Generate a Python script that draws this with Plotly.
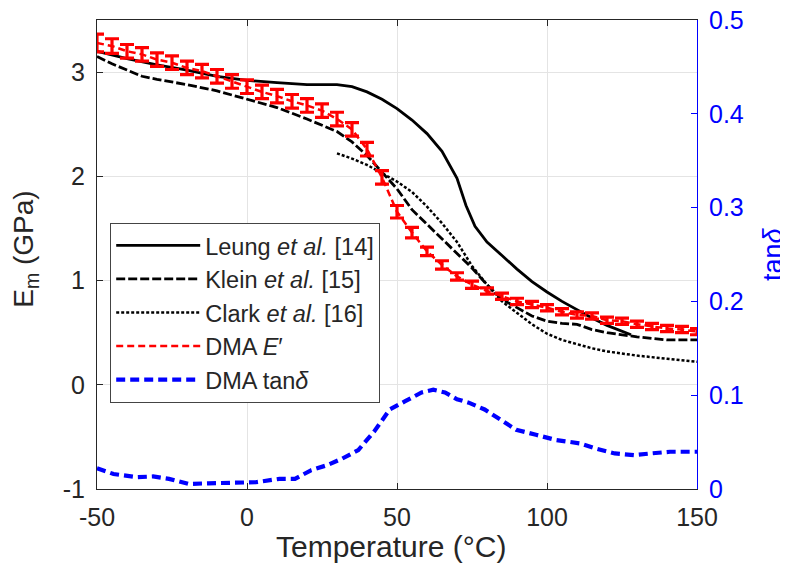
import plotly.graph_objects as go

# ---------------- data ----------------
leung_T = [-50, -40, -30, -20, -10, 0, 10, 20, 30, 35, 40, 45, 50, 55, 60, 65, 70, 73, 76, 80, 85, 90, 95, 100, 105, 110, 115, 120, 125, 128]
leung_E = [3.20, 3.13, 3.07, 3.02, 2.96, 2.92, 2.90, 2.88, 2.88, 2.86, 2.81, 2.74, 2.65, 2.54, 2.41, 2.24, 1.98, 1.72, 1.52, 1.37, 1.24, 1.11, 0.99, 0.89, 0.80, 0.72, 0.64, 0.57, 0.51, 0.48]

klein_T = [-50, -45, -40, -35, -30, -20, -10, 0, 10, 20, 30, 35, 40, 45, 50, 55, 60, 65, 70, 75, 80, 85, 90, 95, 100, 105, 110, 115, 120, 125, 130, 140, 150]
klein_E = [3.15, 3.08, 3.02, 2.96, 2.93, 2.88, 2.82, 2.74, 2.66, 2.55, 2.43, 2.33, 2.20, 2.04, 1.88, 1.68, 1.54, 1.40, 1.26, 1.12, 0.96, 0.82, 0.74, 0.66, 0.61, 0.59, 0.58, 0.53, 0.50, 0.48, 0.46, 0.43, 0.43]

clark_T = [30, 35, 40, 45, 50, 55, 60, 65, 70, 75, 80, 85, 90, 95, 100, 105, 110, 115, 120, 130, 140, 150]
clark_E = [2.22, 2.17, 2.11, 2.03, 1.95, 1.85, 1.71, 1.55, 1.37, 1.14, 0.96, 0.80, 0.69, 0.58, 0.49, 0.43, 0.39, 0.35, 0.32, 0.28, 0.25, 0.22]

dma_T = [-50, -45, -40, -35, -30, -25, -20, -15, -10, -5, 0, 5, 10, 15, 20, 25, 30, 35, 40, 45, 50,
         55, 60, 65, 70, 75, 80, 85, 90, 95, 100, 105, 110, 115, 120, 125, 130, 135, 140, 145, 150]
dma_E = [3.28, 3.25, 3.20, 3.17, 3.12, 3.09, 3.04, 3.01, 2.96, 2.91, 2.86, 2.81, 2.77, 2.72, 2.68, 2.63, 2.55, 2.45, 2.26, 1.99, 1.66,
         1.46, 1.28, 1.15, 1.04, 0.96, 0.90, 0.85, 0.80, 0.77, 0.74, 0.70, 0.67, 0.66, 0.62, 0.61, 0.58, 0.56, 0.54, 0.53, 0.51]
dma_err = [0.085, 0.07, 0.065, 0.065, 0.065, 0.065, 0.065, 0.065, 0.065, 0.065, 0.065, 0.065, 0.065, 0.065, 0.065, 0.065, 0.065, 0.065, 0.065, 0.065, 0.06,
           0.05, 0.04, 0.04, 0.035, 0.035, 0.03, 0.03, 0.03, 0.03, 0.03, 0.03, 0.03, 0.03, 0.03, 0.03, 0.03, 0.03, 0.03, 0.03, 0.03]

tan_T = [-50, -44.5, -36.6, -31.3, -26, -19.5, -12.9, -6.3, 2.9, 10.8, 16, 21.3, 26.6, 31.8, 37.1, 42.4, 47.6, 52.9, 58.2, 62.1, 66,
         70, 73.9, 79.2, 84.5, 89.7, 96.3, 102.9, 110.8, 116, 122.6, 129.2, 134.5, 141, 150]
tan_D = [0.022, 0.016, 0.0126, 0.0134, 0.0108, 0.0054, 0.0061, 0.0061, 0.0072, 0.0108, 0.0108, 0.0199, 0.0253, 0.0325, 0.0415, 0.0614, 0.0848, 0.0939, 0.1029, 0.1058, 0.1029,
         0.0957, 0.0921, 0.0848, 0.074, 0.0632, 0.0578, 0.0523, 0.0487, 0.0433, 0.0379, 0.0361, 0.0379, 0.0397, 0.0397]

x_ticks = [-50, 0, 50, 100, 150]
x_labels = ["-50", "0", "50", "100", "150"]
yl_ticks = [-1, 0, 1, 2, 3]
yl_labels = ["-1", "0", "1", "2", "3"]
yr_ticks = [0, 0.1, 0.2, 0.3, 0.4, 0.5]
yr_labels = ["0", "0.1", "0.2", "0.3", "0.4", "0.5"]

FONT = "Liberation Sans, Arial, sans-serif"
TXT = "#262626"

fig = go.Figure()
fig.add_trace(go.Scatter(x=leung_T, y=leung_E, mode="lines", name="Leung <i>et al.</i> [14]",
                         line=dict(color="black", width=2.8)))
fig.add_trace(go.Scatter(x=klein_T, y=klein_E, mode="lines", name="Klein <i>et al.</i> [15]",
                         line=dict(color="black", width=2.8, dash="9px,3px")))
fig.add_trace(go.Scatter(x=clark_T, y=clark_E, mode="lines", name="Clark <i>et al.</i> [16]",
                         line=dict(color="black", width=2.5, dash="3px,2px")))
fig.add_trace(go.Scatter(x=dma_T, y=dma_E, mode="lines", name="DMA <i>E</i>′",
                         line=dict(color="#ff0000", width=2.5, dash="7px,4px"),
                         error_y=dict(type="data", array=dma_err, visible=True, color="#ff0000",
                                      thickness=3.2, width=7)))
fig.add_trace(go.Scatter(x=tan_T, y=tan_D, mode="lines", name="DMA tan<i>δ</i>", yaxis="y2",
                         line=dict(color="#0000ff", width=4.2, dash="9px,5px")))

fig.update_layout(
    width=780, height=567,
    margin=dict(l=89, r=91, t=12, b=86),
    paper_bgcolor="white", plot_bgcolor="white",
    font=dict(family=FONT, size=25, color=TXT),
    showlegend=True,
    legend=dict(x=0.022, y=0.568, xanchor="left", yanchor="top",
                bgcolor="white", bordercolor="#444444", borderwidth=1,
                font=dict(family=FONT, size=23.5, color=TXT),
                itemwidth=84, traceorder="normal"),
    xaxis=dict(range=[-50, 150], tickvals=x_ticks, ticktext=x_labels, ticks="inside", ticklen=6,
               tickcolor=TXT, showline=True, linecolor=TXT, linewidth=1,
               mirror="ticks", showgrid=True, gridcolor="#e4e4e4", gridwidth=1, zeroline=False,
               tickfont=dict(size=25), ticklabelstandoff=6, automargin=False,
               ticklabeloverflow="allow"),
    yaxis=dict(range=[-1, 3.5], tickvals=yl_ticks, ticktext=yl_labels, ticks="inside", ticklen=6,
               tickcolor=TXT, showline=True, linecolor=TXT, linewidth=1,
               showgrid=True, gridcolor="#e4e4e4", gridwidth=1, zeroline=False,
               tickfont=dict(size=25), ticklabelstandoff=6, automargin=False,
               ticklabeloverflow="allow"),
    yaxis2=dict(range=[0, 0.5], tickvals=yr_ticks, ticktext=yr_labels, overlaying="y", side="right",
                ticks="inside", ticklen=6, tickcolor="#0000ff", showline=True, linecolor="#0000ff",
                linewidth=1, showgrid=False, zeroline=False, automargin=False,
                ticklabelstandoff=6, tickfont=dict(size=25, color="#0000ff"),
                ticklabeloverflow="allow"),
    annotations=[
        dict(text="Temperature (°C)", xref="paper", yref="paper", x=0.49, y=0,
             xanchor="center", yanchor="middle", yshift=-57, showarrow=False,
             font=dict(size=30, color=TXT, family=FONT)),
        dict(text="E<sub>m</sub> (GPa)", xref="paper", yref="paper", x=0, y=0.51,
             xanchor="center", yanchor="middle", xshift=-71, textangle=-90, showarrow=False,
             font=dict(size=28, color=TXT, family=FONT)),
        dict(text="tan<i>δ</i>", xref="paper", yref="paper", x=1, y=0.501,
             xanchor="center", yanchor="middle", xshift=76, textangle=-90, showarrow=False,
             font=dict(size=27, color="#0000ff", family=FONT)),
    ],
)

fig.write_html("out.html")
